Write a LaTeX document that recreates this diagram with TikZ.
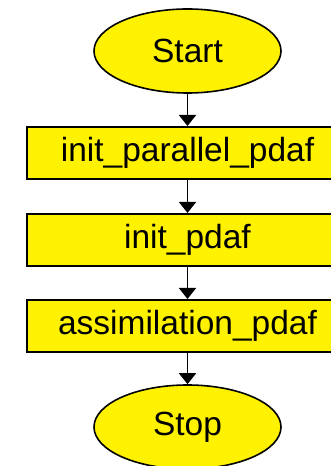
\documentclass[tikz,border=0pt]{standalone}
\usepackage{fontspec}
\setmainfont{Liberation Sans}
\usepackage{tikz}
\usetikzlibrary{shapes}
\usetikzlibrary{arrows.meta}

\tikzset{
  terminal/.style = {ellipse, draw = black, line width = 1.6pt, fill = yellow, minimum width = 187pt, minimum height = 84pt, inner sep = 0pt},
  routine/.style = {rectangle, draw = black, line width = 2pt, fill = yellow, minimum width = 321pt, minimum height = 52pt, inner sep = 0pt},
  flow/.style = {-{Triangle[length=11pt, width=17pt]}, line width = 1.7pt}
}

\begin{document}
\begin{tikzpicture}[x = 1pt, y = 1pt, font = \fontsize{33.5}{36}\selectfont]
\useasboundingbox (0,0) rectangle (330,466);
\draw (187.5,415) node[terminal, name = start]{Start};
\draw (start) + (0,-102) node[routine, name = ipar]{init\_parallel\_pdaf};
\draw[flow] (start) -- (ipar);
\draw (ipar) + (0,-87) node[routine, name = ipdaf]{init\_pdaf};
\draw[flow] (ipar) -- (ipdaf);
\draw (ipdaf) + (0,-86) node[routine, name = assim]{assimilation\_pdaf};
\draw[flow] (ipdaf) -- (assim);
\draw (assim) + (0,-101) node[terminal, name = stop]{Stop};
\draw[flow] (assim) -- (stop);
\end{tikzpicture}
\end{document}
